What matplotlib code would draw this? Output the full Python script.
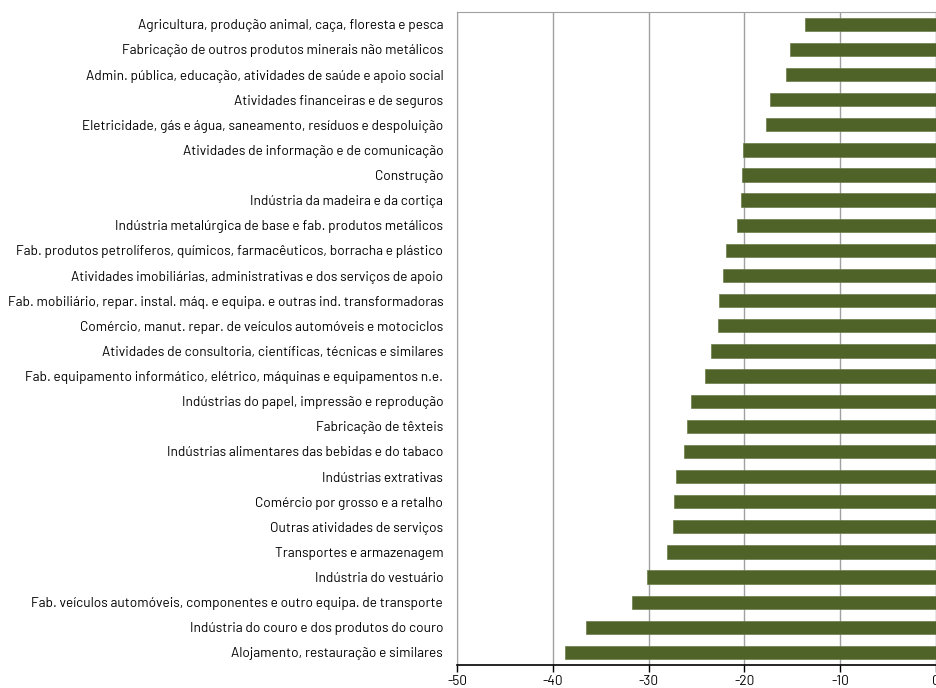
import matplotlib.pyplot as plt

# Categorias (de cima para baixo) e variação (%)
setores = [
    "Agricultura, produção animal, caça, floresta e pesca",
    "Fabricação de outros produtos minerais não metálicos",
    "Admin. pública, educação, atividades de saúde e apoio social",
    "Atividades financeiras e de seguros",
    "Eletricidade, gás e água, saneamento, resíduos e despoluição",
    "Atividades de informação e de comunicação",
    "Construção",
    "Indústria da madeira e da cortiça",
    "Indústria metalúrgica de base e fab. produtos metálicos",
    "Fab. produtos petrolíferos, químicos, farmacêuticos, borracha e plástico",
    "Atividades imobiliárias, administrativas e dos serviços de apoio",
    "Fab. mobiliário, repar. instal. máq. e equipa. e outras ind. transformadoras",
    "Comércio, manut. repar. de veículos automóveis e motociclos",
    "Atividades de consultoria, científicas, técnicas e similares",
    "Fab. equipamento informático, elétrico, máquinas e equipamentos n.e.",
    "Indústrias do papel, impressão e reprodução",
    "Fabricação de têxteis",
    "Indústrias alimentares das bebidas e do tabaco",
    "Indústrias extrativas",
    "Comércio por grosso e a retalho",
    "Outras atividades de serviços",
    "Transportes e armazenagem",
    "Indústria do vestuário",
    "Fab. veículos automóveis, componentes e outro equipa. de transporte",
    "Indústria do couro e dos produtos do couro",
    "Alojamento, restauração e similares",
]
valores = [-13.7, -15.2, -15.6, -17.3, -17.7, -20.1, -20.2, -20.3, -20.8,
           -21.9, -22.2, -22.6, -22.7, -23.5, -24.1, -25.6, -26.0, -26.3,
           -27.1, -27.3, -27.4, -28.1, -30.2, -31.7, -36.5, -38.7]
xticks = [-50, -40, -30, -20, -10, 0]

plt.rcParams["font.family"] = ["Barlow", "DejaVu Sans"]

fig = plt.figure(figsize=(9.36, 6.88), dpi=100)
ax = fig.add_axes([0.4883, 0.0334, 0.5114, 0.9496])

pos = list(range(len(setores)))
ax.barh(pos, valores, height=0.53, color="#4f6228", edgecolor="#6b7d48",
        linewidth=0.5, zorder=3)
ax.set_ylim(len(setores) - 0.5, -0.5)
ax.set_yticks(pos)
ax.set_yticklabels(setores, fontsize=9.8, color="black")
ax.tick_params(axis="y", length=0, pad=10)

ax.set_xlim(-50, 0)
ax.set_xticks(xticks)
ax.set_xticklabels([str(t) for t in xticks], fontsize=9.8, color="black")
ax.tick_params(axis="x", length=5, width=1, color="black", pad=2)

ax.grid(axis="x", color="#a0a0a0", linewidth=1, zorder=0)
for s in ["top", "left", "right"]:
    ax.spines[s].set_color("#a0a0a0")
ax.spines["bottom"].set_color("black")
ax.spines["bottom"].set_linewidth(1.2)

fig.savefig("out.png", dpi=100)
